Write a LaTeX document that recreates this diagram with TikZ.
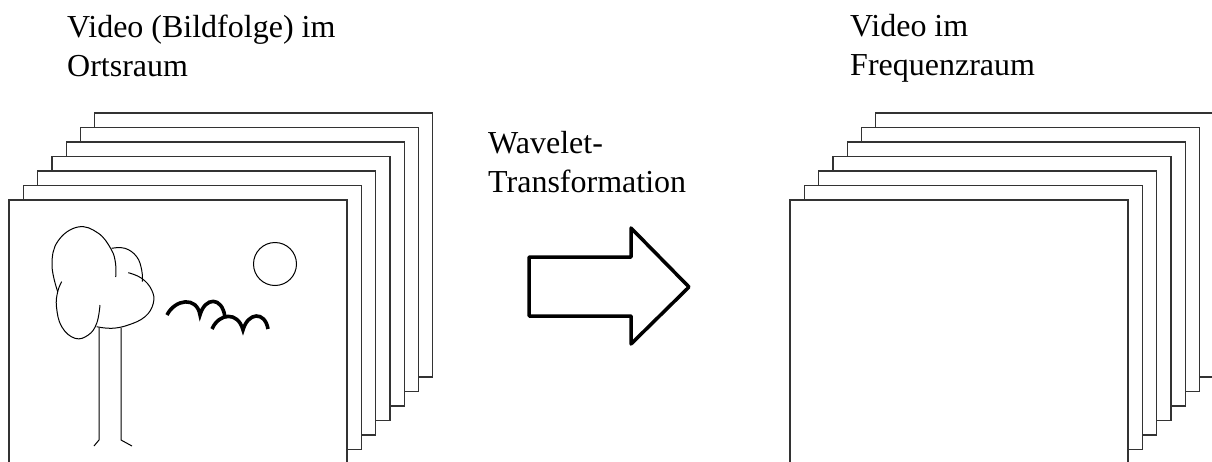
\documentclass[tikz,border=0pt]{standalone}
\usepackage{fontspec}
\setmainfont{Liberation Serif}
\begin{document}
\begin{tikzpicture}[x=1pt,y=-1pt,
  label/.style={inner sep=0pt,align=left,anchor=base west,
    font=\fontsize{32}{39}\selectfont},
  frame/.style={draw=black!80,line width=1.3pt,fill=white},
  sketch/.style={draw=black,line width=1pt},
  bird/.style={draw=black,line width=3.6pt},
  blockarrow/.style={draw=black,line width=3.5pt,line join=round}]
\useasboundingbox (0,0) rectangle (1212,461);
\clip (0,0) rectangle (1212,461);

% labels (anchored at the baseline of their last line)
\node[label] (lblspace) at (67,76) {Video (Bildfolge) im\\Ortsraum};
\node[label] (lbltrans) at (488,192) {Wavelet-\\Transformation};
\node[label] (lblfreq)  at (850,75) {Video im\\Frequenzraum};

% two stacks of frames, back frame first
\foreach \sx in {0,781}{
  \foreach \k in {6,...,0}{
    \path[frame] ({\sx+9+14.3*\k},{200-14.5*\k}) rectangle ++(338,264);
  }
}

% tree crown
\draw[sketch] plot[smooth,tension=0.7] coordinates
  {(57.7,291.7) (52,265) (58,241) (78,227) (98,233) (111,249) (115.5,263) (115.7,277)};
\draw[sketch] plot[smooth,tension=0.7] coordinates
  {(61.7,281.7) (57.7,291.7) (56.5,307) (61.7,326.7) (75,338.3) (88.3,335) (96.7,323.3) (100,305)};
\draw[sketch] plot[smooth,tension=0.7] coordinates
  {(111.7,248.3) (125,248.3) (136.7,256.7) (141.7,270) (142.3,281.7)};
\draw[sketch] plot[smooth,tension=0.7] coordinates
  {(128.3,272.7) (141.7,278.3) (151.7,290) (153.3,303.3) (145,316.7) (128.3,325) (111.7,328.3) (96.7,326.7)};
% trunk and roots
\draw[sketch] (94,446) -- (99,440) -- (99,328);
\draw[sketch] (132,446) -- (121,440) -- (121,328);

% sun
\draw[sketch] (275,264) circle[radius=21.5];

% birds
\draw[bird] (167,315) .. controls (175,299) and (197,296) .. (200,315)
            .. controls (205,297) and (222,296) .. (225,317);
\draw[bird] (212,329) .. controls (219,313) and (238,311) .. (243,330)
            .. controls (248,312) and (265,311) .. (268,329);

% block arrow
\draw[blockarrow] (529,257) -- (631,257) -- (631,228) -- (689,287)
  -- (631,344) -- (631,316) -- (529,316) -- cycle;
\end{tikzpicture}
\end{document}
